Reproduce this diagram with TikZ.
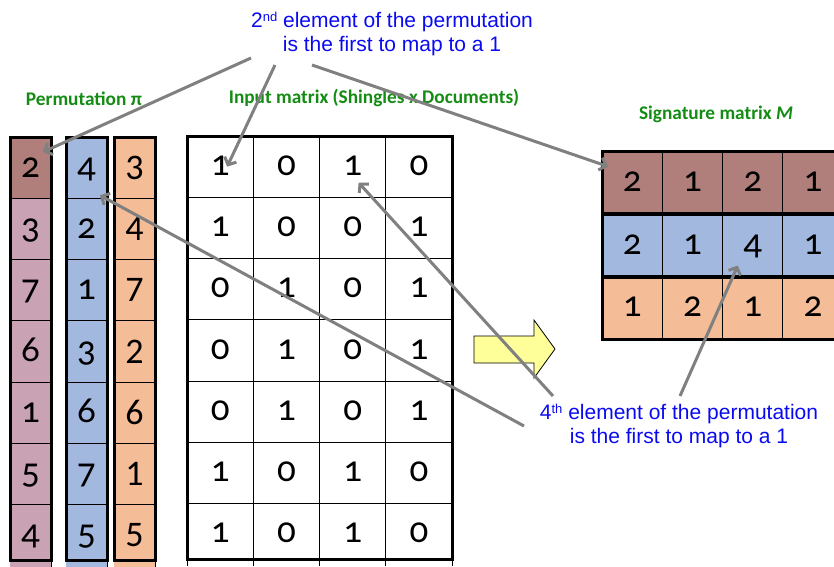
\documentclass[tikz,border=0pt]{standalone}
\usepackage{fontspec}
\setmainfont{Liberation Sans}
\newfontfamily\labelfont{Carlito}
\newfontfamily\oldfig[Numbers=OldStyle]{Carlito}
\newfontfamily\linfig{Carlito}
\usetikzlibrary{arrows.meta,calc}

\definecolor{rosy}{RGB}{176,126,123}
\definecolor{mauve}{RGB}{201,162,180}
\definecolor{paleblue}{RGB}{163,184,222}
\definecolor{peach}{RGB}{244,188,151}
\definecolor{lemon}{RGB}{255,255,153}
\definecolor{leaf}{RGB}{20,140,20}
\definecolor{note}{RGB}{10,10,240}
\definecolor{pointer}{RGB}{128,128,128}

\begin{document}
\begin{tikzpicture}[x=1pt,y=-1pt,
  cellbox/.style={draw=black, line width=1pt, inner sep=0pt, outer sep=0pt, text=black},
  permcell/.style={cellbox, minimum width=41pt, minimum height=61.3pt,
    text height=19pt, text depth=0pt, font=\oldfig\fontsize{37}{37}\selectfont},
  permlin/.style={cellbox, minimum width=41pt, minimum height=61.3pt,
    font=\linfig\fontsize{36}{36}\selectfont},
  incell/.style={cellbox, minimum width=66.25pt, minimum height=61.3pt,
    text height=17pt, text depth=0pt, font=\oldfig\fontsize{37}{37}\selectfont},
  sigcell/.style={cellbox, minimum width=60.3pt, minimum height=63.5pt,
    text height=17pt, text depth=0pt, font=\oldfig\fontsize{37}{37}\selectfont},
  frame/.style={draw=black, line width=3pt},
  heading/.style={text=leaf, font=\labelfont\bfseries\fontsize{19.3}{22}\selectfont},
  remark/.style={text=note, align=center, font=\fontsize{21}{24}\selectfont},
  pointer/.style={draw=pointer, line width=3pt,
    -{Straight Barb[length=6pt,width=13pt]}},
  bigarrow/.style={fill=lemon, draw=black, line width=0.8pt}
]
\useasboundingbox (0,0) rectangle (834,566);

% ---- permutation columns (they run on past the lower edge) ----
\node[permcell, fill=rosy] (pa1) at (30.5,167.65) {2};
\foreach \v [count=\r from 2] in {3,7,6,1,5,4}
  \node[permcell, fill=mauve] (pa\r) at (30.5,{137+61.3*(\r-0.5)}) {\v};
\foreach \v [count=\r] in {4,2,1,3,6,7,5}
  \node[permcell, fill=paleblue] (pb\r) at (86.5,{137+61.3*(\r-0.5)}) {\v};
\foreach \v [count=\r] in {3,4,7,2,6,1,5}
  \node[permlin, fill=peach] (pc\r) at (134.5,{137+61.3*(\r-0.5)}) {\v};
\foreach \n/\shade in {pa7/mauve,pb7/paleblue,pc7/peach}
  \fill[\shade] ([yshift=-1.5pt]\n.south west) rectangle ([yshift=8pt]\n.south east);
\draw[frame] (pa1.north west) rectangle ([yshift=6pt]pa7.south east);
\draw[frame] (pb1.north west) rectangle ([yshift=6pt]pb7.south east);
\draw[frame] (pc1.north west) rectangle ([yshift=6pt]pc7.south east);

% ---- input matrix ----
\foreach \rowvals [count=\r] in {{1,0,1,0},{1,0,0,1},{0,1,0,1},{0,1,0,1},{0,1,0,1},{1,0,1,0},{1,0,1,0}}
  \foreach \v [count=\c] in \rowvals
    \node[incell] (in\r\c) at ({187+66.25*(\c-0.5)},{136+61.3*(\r-0.5)}) {\v};
\foreach \c in {1,2,3,4}
  \fill[white] ([xshift=0.5pt,yshift=-1.5pt]in7\c.south west) rectangle ([xshift=-0.5pt,yshift=8pt]in7\c.south east);
\draw[frame] (in11.north west) rectangle ([yshift=6pt]in74.south east);

% ---- signature matrix ----
\foreach \rowvals/\shade [count=\r] in {{2,1,2,1}/rosy,{2,1,4,1}/paleblue,{1,2,1,2}/peach}
  \foreach \v [count=\c] in \rowvals
    \node[sigcell, fill=\shade] (s\r\c) at ({602+60.3*(\c-0.5)},{152+62.4*(\r-0.5)}) {\v};
\foreach \r in {1,2,3}
  \draw[frame] (s\r1.north west) rectangle (s\r4.south east);

% ---- headings ----
\node[heading] (hperm) at (84,99) {Permutation π};
\node[heading] (hin) at (374,98) {Input matrix (Shingles x Documents)};
\node[heading] (hsig) at (716,114) {Signature matrix \textit{M}};

% ---- block arrow between the matrices ----
\draw[bigarrow] (474,336) -- (534,336) -- (534,320) -- (555,349)
  -- (534,378) -- (534,363) -- (474,363) -- cycle;

% ---- remarks ----
\node[remark] (top) at (392,34) {2{\fontsize{13}{13}\selectfont\raisebox{6pt}{nd}} element of the permutation\\is the first to map to a 1};
\node[remark] (bottom) at (679,426) {4{\fontsize{13}{13}\selectfont\raisebox{6pt}{th}} element of the permutation\\is the first to map to a 1};

% ---- pointers ----
\coordinate (t1) at (251,58);
\coordinate (t2) at (275,65);
\coordinate (t3) at (312,65);
\coordinate (b1) at (553,396);
\coordinate (b2) at (524,426);
\coordinate (b3) at (680,396);
\coordinate (e1) at ([shift={(-8,15)}]pa1.north east);
\coordinate (e2) at ([shift={(7,0)}]in11.center);
\coordinate (e3) at ([shift={(6,15)}]s11.north west);
\coordinate (e4) at ([shift={(6,16)}]in13.center);
\coordinate (e5) at ([shift={(-7,-3)}]pb1.south east);
\coordinate (e6) at ([shift={(-15,20)}]s23.center);
\draw[pointer] (t1) -- (e1);
\draw[pointer] (t2) -- (e2);
\draw[pointer] (t3) -- (e3);
\draw[pointer] (b1) -- (e4);
\draw[pointer] (b2) -- (e5);
\draw[pointer] (b3) -- (e6);
\end{tikzpicture}
\end{document}
